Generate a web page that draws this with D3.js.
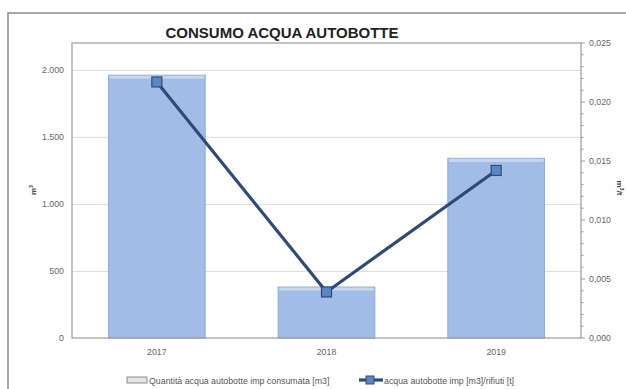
<!DOCTYPE html>
<html><head><meta charset="utf-8">
<script src="https://cdn.jsdelivr.net/npm/d3@7"></script>
<style>html,body{margin:0;padding:0;background:#fff;}svg{display:block;}</style>
</head><body>
<svg id="c" width="626" height="389"></svg>
<script>
const categories = ["2017", "2018", "2019"];
const consumo = [1960, 380, 1340];               // m3
const rapporto = [0.0217, 0.0039, 0.0142];        // m3/t
const leftTicks = [0, 500, 1000, 1500, 2000];
const rightTicks = [0, 0.005, 0.010, 0.015, 0.020, 0.025];
const title = "CONSUMO ACQUA AUTOBOTTE";
const seriesNames = ["Quantità acqua autobotte imp consumata [m3]", "acqua autobotte imp [m3]/rifiuti [t]"];

const svg = d3.select("#c");
const m = {l: 72, r: 581, t: 43, b: 338};
const FONT = "Liberation Sans Narrow, Liberation Sans, sans-serif";
const FS = 8.8;

// outer frame
svg.append("rect").attr("x", 8).attr("y", 13).attr("width", 640).attr("height", 400)
  .attr("fill", "#fff").attr("stroke", "#8c8c8c").attr("stroke-width", 1.5);

const x = d3.scaleBand().domain(categories).range([m.l, m.r]).paddingInner(0.43).paddingOuter(0.215);
const yL = d3.scaleLinear().domain([0, 2200]).range([m.b, m.t]);
const yR = d3.scaleLinear().domain([0, 0.025]).range([m.b, m.t]);

const fmtL = v => d3.format(",")(v).replace(/,/g, ".");
const fmtR = v => d3.format(".3f")(v).replace(".", ",");

// gridlines
svg.append("g").selectAll("line").data(leftTicks.filter(d => d > 0)).join("line")
  .attr("x1", m.l).attr("x2", m.r).attr("y1", d => yL(d) + 0.5).attr("y2", d => yL(d) + 0.5)
  .attr("stroke", "#dcdcdc").attr("stroke-width", 1);

// bars
const bars = svg.append("g");
bars.selectAll("rect.b").data(consumo).join("rect").attr("class", "b")
  .attr("x", (d, i) => x(categories[i])).attr("width", x.bandwidth())
  .attr("y", d => yL(d)).attr("height", d => yL(0) - yL(d))
  .attr("fill", "#a1bde7").attr("stroke", "#8ea9d6").attr("stroke-width", 1);
bars.selectAll("rect.t").data(consumo).join("rect").attr("class", "t")
  .attr("x", (d, i) => x(categories[i]) + 1).attr("width", x.bandwidth() - 2)
  .attr("y", d => yL(d) + 0.5).attr("height", 3)
  .attr("fill", "#c6d7f0");

// plot border
svg.append("rect").attr("x", m.l).attr("y", m.t).attr("width", m.r - m.l).attr("height", m.b - m.t)
  .attr("fill", "none").attr("stroke", "#9a9a9a").attr("stroke-width", 1.2);

// left axis labels
svg.append("g").selectAll("text").data(leftTicks).join("text")
  .attr("x", 64).attr("y", d => yL(d)).attr("dy", "0.35em").attr("text-anchor", "end")
  .attr("font-family", FONT).attr("font-size", FS)
  .attr("fill", "#666").text(fmtL);

// right axis ticks
const minor = d3.range(0, 26).map(i => i * 0.001);
svg.append("g").selectAll("line").data(minor).join("line")
  .attr("x1", m.r).attr("x2", d => m.r + (Math.round(d * 1000) % 5 === 0 ? 4 : 2.5))
  .attr("y1", d => yR(d)).attr("y2", d => yR(d))
  .attr("stroke", "#9a9a9a").attr("stroke-width", 1);
svg.append("g").selectAll("text").data(rightTicks).join("text")
  .attr("x", 589).attr("y", d => yR(d)).attr("dy", "0.35em").attr("text-anchor", "start")
  .attr("font-family", FONT).attr("font-size", FS)
  .attr("fill", "#666").text(fmtR);

// x labels
svg.append("g").selectAll("text").data(categories).join("text")
  .attr("x", d => x(d) + x.bandwidth() / 2).attr("y", 355).attr("text-anchor", "middle")
  .attr("font-family", FONT).attr("font-size", FS)
  .attr("fill", "#666").text(d => d);

// line
const line = d3.line().x((d, i) => x(categories[i]) + x.bandwidth() / 2).y(d => yR(d));
svg.append("path").datum(rapporto).attr("d", line).attr("fill", "none")
  .attr("stroke", "#2e4a78").attr("stroke-width", 3.2).attr("stroke-linejoin", "round");
svg.append("g").selectAll("rect").data(rapporto).join("rect")
  .attr("x", (d, i) => x(categories[i]) + x.bandwidth() / 2 - 5).attr("y", d => yR(d) - 5)
  .attr("width", 10).attr("height", 10)
  .attr("fill", "#5a86c5").attr("stroke", "#2e4a78").attr("stroke-width", 1.2);

// title
svg.append("text").attr("x", 282).attr("y", 38).attr("text-anchor", "middle")
  .attr("font-family", FONT).attr("font-weight", "bold")
  .attr("font-size", 15).attr("fill", "#222").text(title);

// axis titles
svg.append("text").attr("transform", "translate(36,190) rotate(-90)").attr("text-anchor", "middle")
  .attr("font-family", "Liberation Sans, sans-serif").attr("font-weight", "bold").attr("font-size", 8)
  .attr("fill", "#444").html("m<tspan dy='-3' font-size='5.5'>3</tspan>");
svg.append("text").attr("transform", "translate(617,188) rotate(90)").attr("text-anchor", "middle")
  .attr("font-family", "Liberation Sans, sans-serif").attr("font-weight", "bold").attr("font-size", 8)
  .attr("fill", "#444").html("m<tspan dy='-3' font-size='5.5'>3</tspan><tspan dy='3'>/t</tspan>");

// legend
const lg = svg.append("g").attr("font-family", FONT)
  .attr("font-size", FS).attr("fill", "#555");
lg.append("rect").attr("x", 127).attr("y", 377).attr("width", 20).attr("height", 6)
  .attr("fill", "#e4e4e4").attr("stroke", "#8c8c8c").attr("stroke-width", 1);
lg.append("text").attr("x", 149).attr("y", 383.5).text(seriesNames[0]);
lg.append("line").attr("x1", 359).attr("x2", 383).attr("y1", 380).attr("y2", 380)
  .attr("stroke", "#2e4a78").attr("stroke-width", 3.2);
lg.append("rect").attr("x", 366).attr("y", 376).attr("width", 8).attr("height", 8)
  .attr("fill", "#5a86c5").attr("stroke", "#2e4a78").attr("stroke-width", 1);
lg.append("text").attr("x", 384).attr("y", 383.5).text(seriesNames[1]);
</script>
</body></html>
